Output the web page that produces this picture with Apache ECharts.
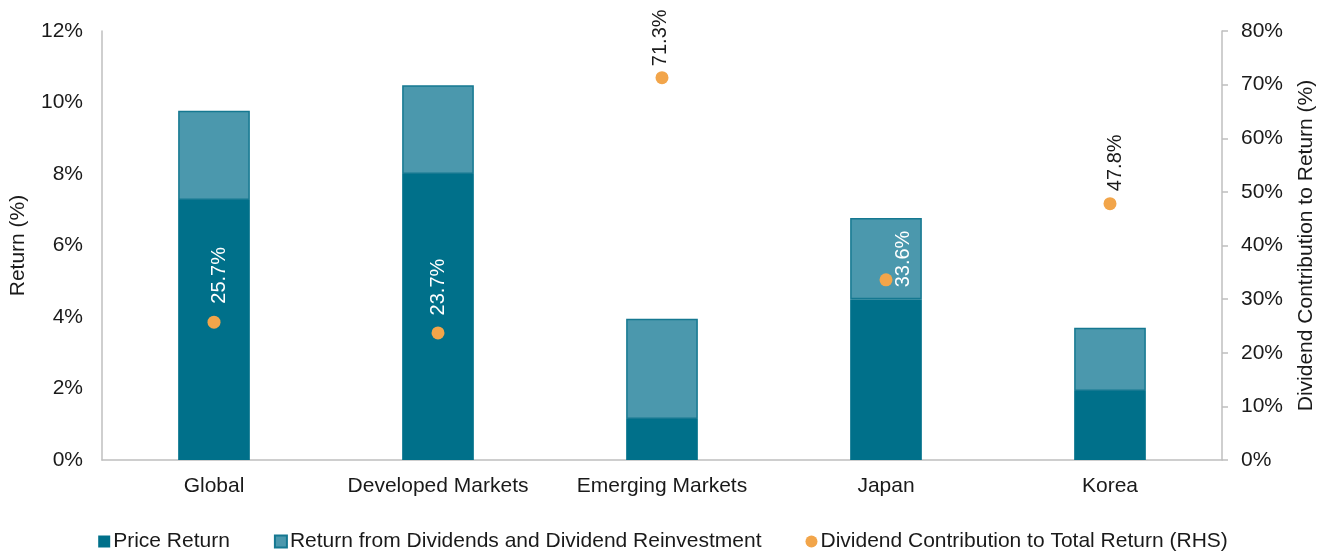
<!DOCTYPE html>
<html>
<head>
<meta charset="utf-8">
<script src="https://cdn.jsdelivr.net/npm/echarts@6/dist/echarts.min.js"></script>
<style>
  html, body { margin: 0; padding: 0; background: #ffffff; }
  #chart { width: 1326px; height: 552px; }
</style>
</head>
<body>
<div id="chart"></div>
<script>
// Categories and values
const categories = ['Global', 'Developed Markets', 'Emerging Markets', 'Japan', 'Korea'];
const priceReturn = [7.27, 8.0, 1.15, 4.5, 1.93];
const dividendReturn = [2.5, 2.48, 2.8, 2.27, 1.77];
const dividendShare = [25.7, 23.7, 71.3, 33.6, 47.8];
const leftTicks = { min: 0, max: 12, interval: 2 };
const rightTicks = { min: 0, max: 80, interval: 10 };

// Label placement for each dot (offsets from symbol box) and text colour
const labelOffsets = [[12, -12], [7, -11], [5, -5], [24, 14], [12, -6]];
const labelColors = ['#ffffff', '#ffffff', '#1a1a1a', '#ffffff', '#1a1a1a'];

const FONT = 'Liberation Sans, Arial, sans-serif';
const DARK = '#00708A';
const LIGHT = '#4B98AD';
const ORANGE = '#F2A54A';
const AXIS_GREY = '#BFBFBF';
const FS = 21;

const chart = echarts.init(document.getElementById('chart'), null, { renderer: 'canvas' });

const scatterData = dividendShare.map((v, i) => ({
  value: v,
  label: {
    position: labelOffsets[i],
    color: labelColors[i]
  }
}));

chart.setOption({
  animation: false,
  textStyle: { fontFamily: FONT },
  grid: { left: 100, right: 104, top: 31, bottom: 92, containLabel: false },
  legend: {
    top: 526,
    left: 'center',
    itemWidth: 12,
    itemHeight: 12,
    itemGap: 44,
    textStyle: { fontSize: FS, color: '#1a1a1a', fontFamily: FONT, padding: [0, 0, 0, -2] },
    data: [
      { name: 'Price Return', icon: 'rect' },
      { name: 'Return from Dividends and Dividend Reinvestment', icon: 'rect' },
      { name: 'Dividend Contribution to Total Return (RHS)', icon: 'circle' }
    ]
  },
  xAxis: {
    type: 'category',
    data: categories,
    axisLine: { lineStyle: { color: AXIS_GREY, width: 1.5 } },
    axisTick: { show: false },
    axisLabel: { interval: 0, fontSize: FS, color: '#1a1a1a', margin: 16, fontFamily: FONT }
  },
  yAxis: [
    {
      type: 'value',
      min: leftTicks.min,
      max: leftTicks.max,
      interval: leftTicks.interval,
      name: 'Return (%)',
      nameLocation: 'middle',
      nameGap: 73,
      nameTextStyle: { fontSize: FS, color: '#1a1a1a', fontFamily: FONT },
      axisLine: { show: true, lineStyle: { color: AXIS_GREY, width: 1.5 } },
      axisTick: { show: false },
      splitLine: { show: false },
      axisLabel: { formatter: '{value}%', fontSize: FS, color: '#1a1a1a', margin: 19, fontFamily: FONT }
    },
    {
      type: 'value',
      position: 'right',
      min: rightTicks.min,
      max: rightTicks.max,
      interval: rightTicks.interval,
      name: 'Dividend Contribution to Return (%)',
      nameLocation: 'middle',
      nameGap: 74,
      nameRotate: 90,
      nameTextStyle: { fontSize: FS, color: '#1a1a1a', fontFamily: FONT },
      axisLine: { show: true, lineStyle: { color: AXIS_GREY, width: 1.5 } },
      axisTick: { show: true, length: 6, lineStyle: { color: AXIS_GREY, width: 1.5 } },
      splitLine: { show: false },
      axisLabel: { formatter: '{value}%', fontSize: FS, color: '#1a1a1a', margin: 19, fontFamily: FONT }
    }
  ],
  series: [
    {
      name: 'Price Return',
      type: 'bar',
      stack: 'total',
      barWidth: '32%',
      data: priceReturn,
      itemStyle: { color: DARK }
    },
    {
      name: 'Return from Dividends and Dividend Reinvestment',
      type: 'bar',
      stack: 'total',
      barWidth: '32%',
      data: dividendReturn,
      itemStyle: { color: LIGHT, borderColor: '#157891', borderWidth: 1.5 }
    },
    {
      name: 'Dividend Contribution to Total Return (RHS)',
      type: 'scatter',
      yAxisIndex: 1,
      symbolSize: 13,
      data: scatterData,
      itemStyle: { color: ORANGE, opacity: 1 },
      label: {
        show: true,
        rotate: 90,
        align: 'left',
        verticalAlign: 'middle',
        fontSize: 20,
        fontFamily: FONT,
        formatter: p => p.value.toFixed(1) + '%'
      },
      z: 5
    }
  ]
});
</script>
</body>
</html>
